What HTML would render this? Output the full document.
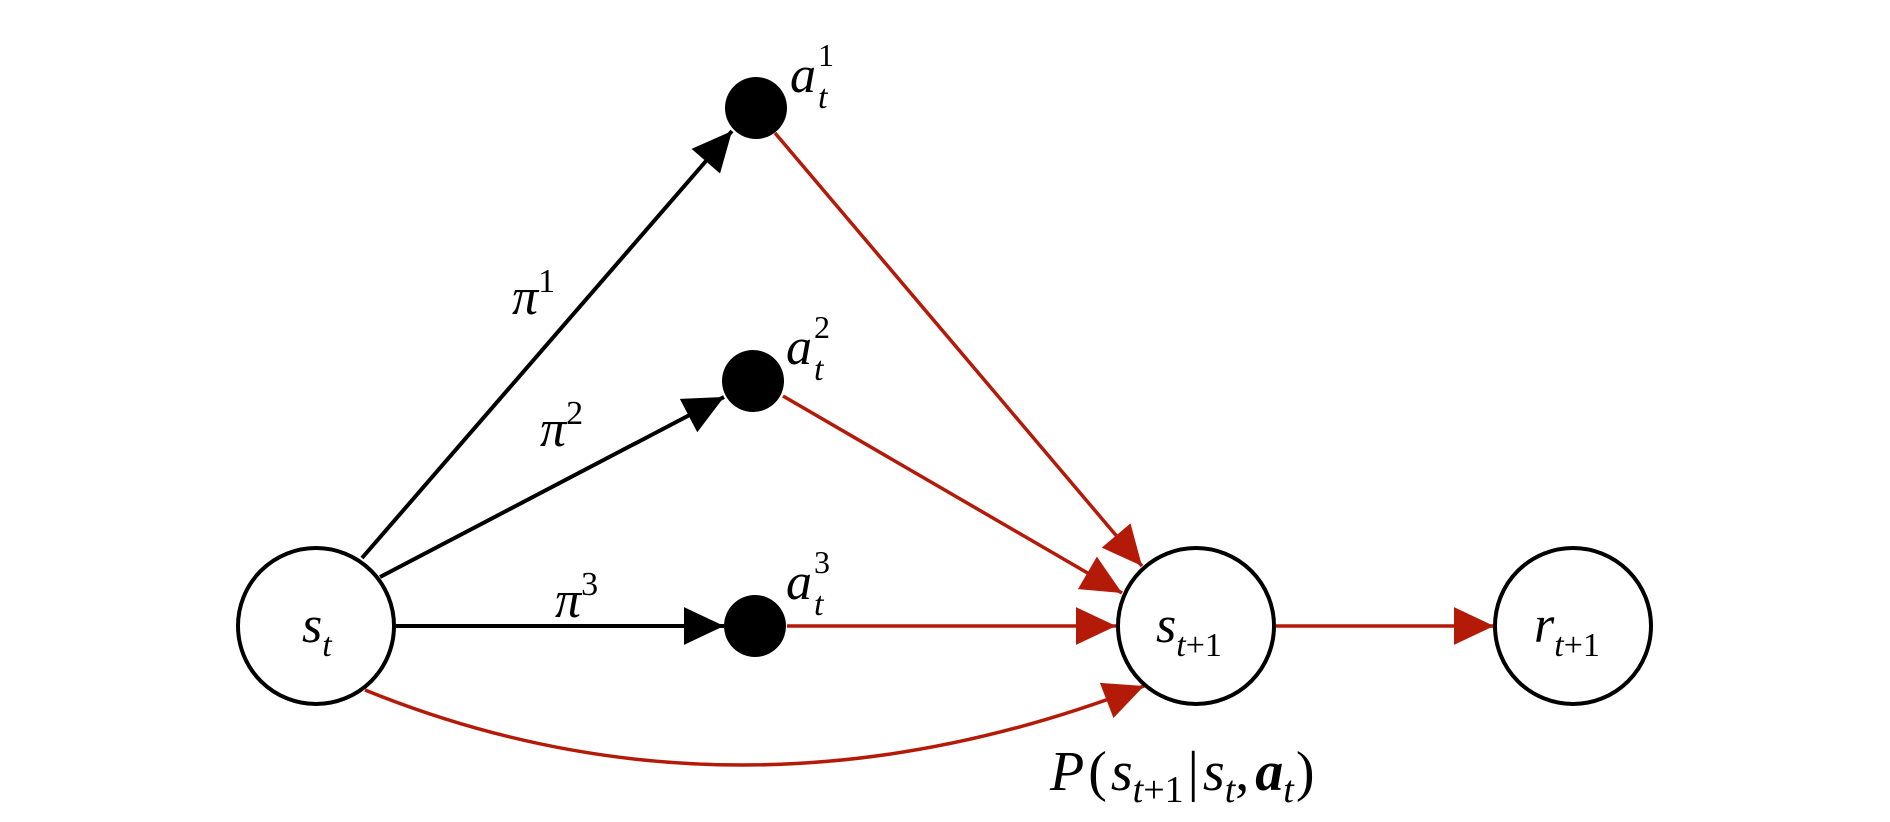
<!DOCTYPE html>
<html><head><meta charset="utf-8"><style>
html,body{margin:0;padding:0;background:#fff;}
svg{display:block;}
text{font-family:"Liberation Serif",serif;font-style:italic;fill:#000;}
.n{font-style:normal;}
</style></head><body>
<svg width="1890" height="822" viewBox="0 0 1890 822" xmlns="http://www.w3.org/2000/svg">
<defs>
<marker id="ab" markerUnits="userSpaceOnUse" markerWidth="40" markerHeight="40" viewBox="0 0 34 32" refX="34" refY="16" orient="auto" overflow="visible">
<path d="M0,0 L34,16 L0,32 z" fill="#000"/></marker>
<marker id="ar" markerUnits="userSpaceOnUse" markerWidth="40" markerHeight="40" viewBox="0 0 34 32" refX="34" refY="16" orient="auto" overflow="visible">
<path d="M0,0 L34,16 L0,32 z" fill="#b41a08"/></marker>
</defs>
<g stroke="#000" stroke-width="4" fill="none">
<line x1="362" y1="558" x2="732" y2="131" marker-end="url(#ab)"/>
<line x1="380" y1="577" x2="724" y2="397" marker-end="url(#ab)"/>
<line x1="396" y1="626" x2="724" y2="626" marker-end="url(#ab)"/>
</g>
<g stroke="#b41a08" stroke-width="3.5" fill="none">
<line x1="775" y1="133" x2="1142" y2="566" marker-end="url(#ar)"/>
<line x1="783" y1="396" x2="1122" y2="593" marker-end="url(#ar)"/>
<line x1="787" y1="626" x2="1116" y2="626" marker-end="url(#ar)"/>
<line x1="1276" y1="626" x2="1494" y2="626" marker-end="url(#ar)"/>
<path d="M365,690 Q740,842 1144,686" marker-end="url(#ar)"/>
</g>
<g stroke="#000" stroke-width="4" fill="#fff">
<circle cx="316" cy="626" r="78"/>
<circle cx="1196" cy="626" r="78"/>
<circle cx="1573" cy="626" r="78"/>
</g>
<g fill="#000">
<circle cx="756" cy="108" r="31"/>
<circle cx="753" cy="381" r="31"/>
<circle cx="755" cy="626" r="31"/>
</g>
<g font-size="52">
<text x="302" y="642">s<tspan font-size="34" dy="14">t</tspan></text>
<text x="1156" y="642">s<tspan font-size="34" dy="14">t</tspan><tspan class="n" font-size="34">+1</tspan></text>
<text x="1534" y="642">r<tspan font-size="34" dy="14">t</tspan><tspan class="n" font-size="34">+1</tspan></text>
<text x="512" y="314">π<tspan class="n" font-size="34" dy="-22">1</tspan></text>
<text x="540" y="446">π<tspan class="n" font-size="34" dy="-22">2</tspan></text>
<text x="555" y="617">π<tspan class="n" font-size="34" dy="-22">3</tspan></text>
<text x="790" y="92">a</text><text x="818" y="108" font-size="34">t</text><text class="n" x="818" y="66" font-size="32">1</text>
<text x="786" y="364">a</text><text x="814" y="380" font-size="34">t</text><text class="n" x="814" y="338" font-size="32">2</text>
<text x="786" y="599">a</text><text x="814" y="615" font-size="34">t</text><text class="n" x="814" y="573" font-size="32">3</text>
<text x="1050" y="790" font-size="56">P<tspan class="n" dx="4">(</tspan><tspan dx="4">s</tspan><tspan font-size="38" dy="12">t</tspan><tspan class="n" font-size="38">+1</tspan><tspan class="n" dy="-12" dx="4">|</tspan><tspan dx="4">s</tspan><tspan font-size="38" dy="12">t</tspan><tspan class="n" dy="-12">,</tspan><tspan font-weight="bold" dx="6">a</tspan><tspan font-size="38" dy="12">t</tspan><tspan class="n" dy="-12" dx="2">)</tspan></text>
</g>
</svg>
</body></html>
